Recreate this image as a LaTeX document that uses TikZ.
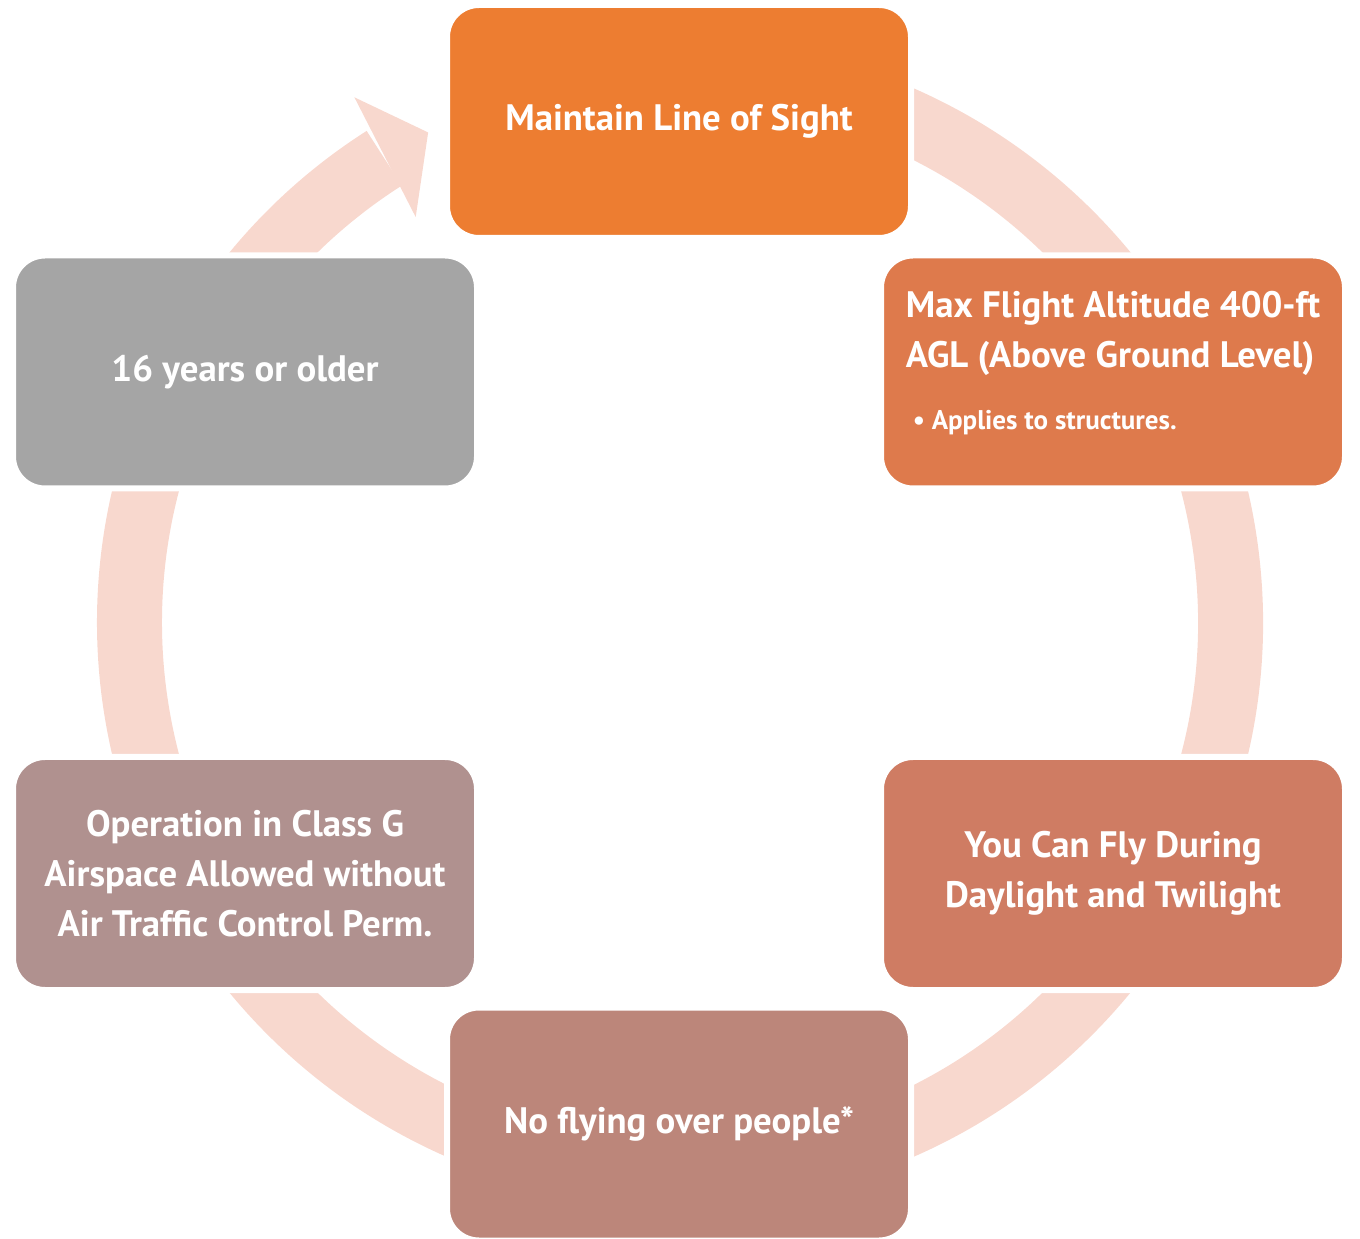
\documentclass[tikz,border=0pt]{standalone}
\usepackage{fontspec}
\setmainfont{PT Sans}
\usetikzlibrary{positioning}

\definecolor{ringpink}{HTML}{F8D8CE}
\definecolor{sightorange}{HTML}{ED7D31}
\definecolor{altorange}{HTML}{DE7A4C}
\definecolor{dayorange}{HTML}{CF7C63}
\definecolor{peoplebrown}{HTML}{BC867A}
\definecolor{airmauve}{HTML}{B0918F}
\definecolor{agegray}{HTML}{A5A5A5}

\begin{document}
\begin{tikzpicture}[
            x=0.5pt, y=0.5pt,
            block/.style={rectangle, rounded corners=16pt, draw=white, line width=3pt,
                minimum width=232pt, minimum height=116.5pt, inner sep=0pt,
                text=white, font=\bfseries\fontsize{18.4}{25}\selectfont, align=center},
            ring/.style={draw=ringpink, line width=32.5pt},
            every node/.style={align=center}
        ]
        \useasboundingbox (0,0) rectangle (1360,1238);

        % Ring behind the blocks
        \coordinate (hub) at (680,615.5);
        \draw[ring] ([shift={(100:550.5)}]hub) arc[start angle=100, end angle=-237.5, radius=550.5];
        \fill[ringpink] ([shift={(121.8:618)}]hub) -- ([shift={(117.2:551)}]hub)
            -- ([shift={(123.1:484)}]hub) -- cycle;

        % Blocks
        \node[block, fill=sightorange] (sight) at (679,1116.5) {Maintain Line of Sight};
        \node[block, fill=altorange, align=left] (altitude) at (1113,866)
            {Max Flight Altitude 400-ft\\AGL (Above Ground Level)\\[6pt]
             {\fontsize{13.5}{16}\selectfont\ \textbullet\ Applies to structures.}\\[-13pt]\mbox{}};
        \node[block, fill=dayorange] (daylight) at (1113,364.5) {You Can Fly During\\Daylight and Twilight};
        \node[block, fill=peoplebrown] (people) at (679,114) {No flying over people*};
        \node[block, fill=airmauve] (airspace) at (245,364.5)
            {Operation in Class G\\Airspace Allowed without\\Air Traffic Control Perm.};
        \node[block, fill=agegray] (age) at (245,866) {16 years or older};

    \end{tikzpicture}
\end{document}
